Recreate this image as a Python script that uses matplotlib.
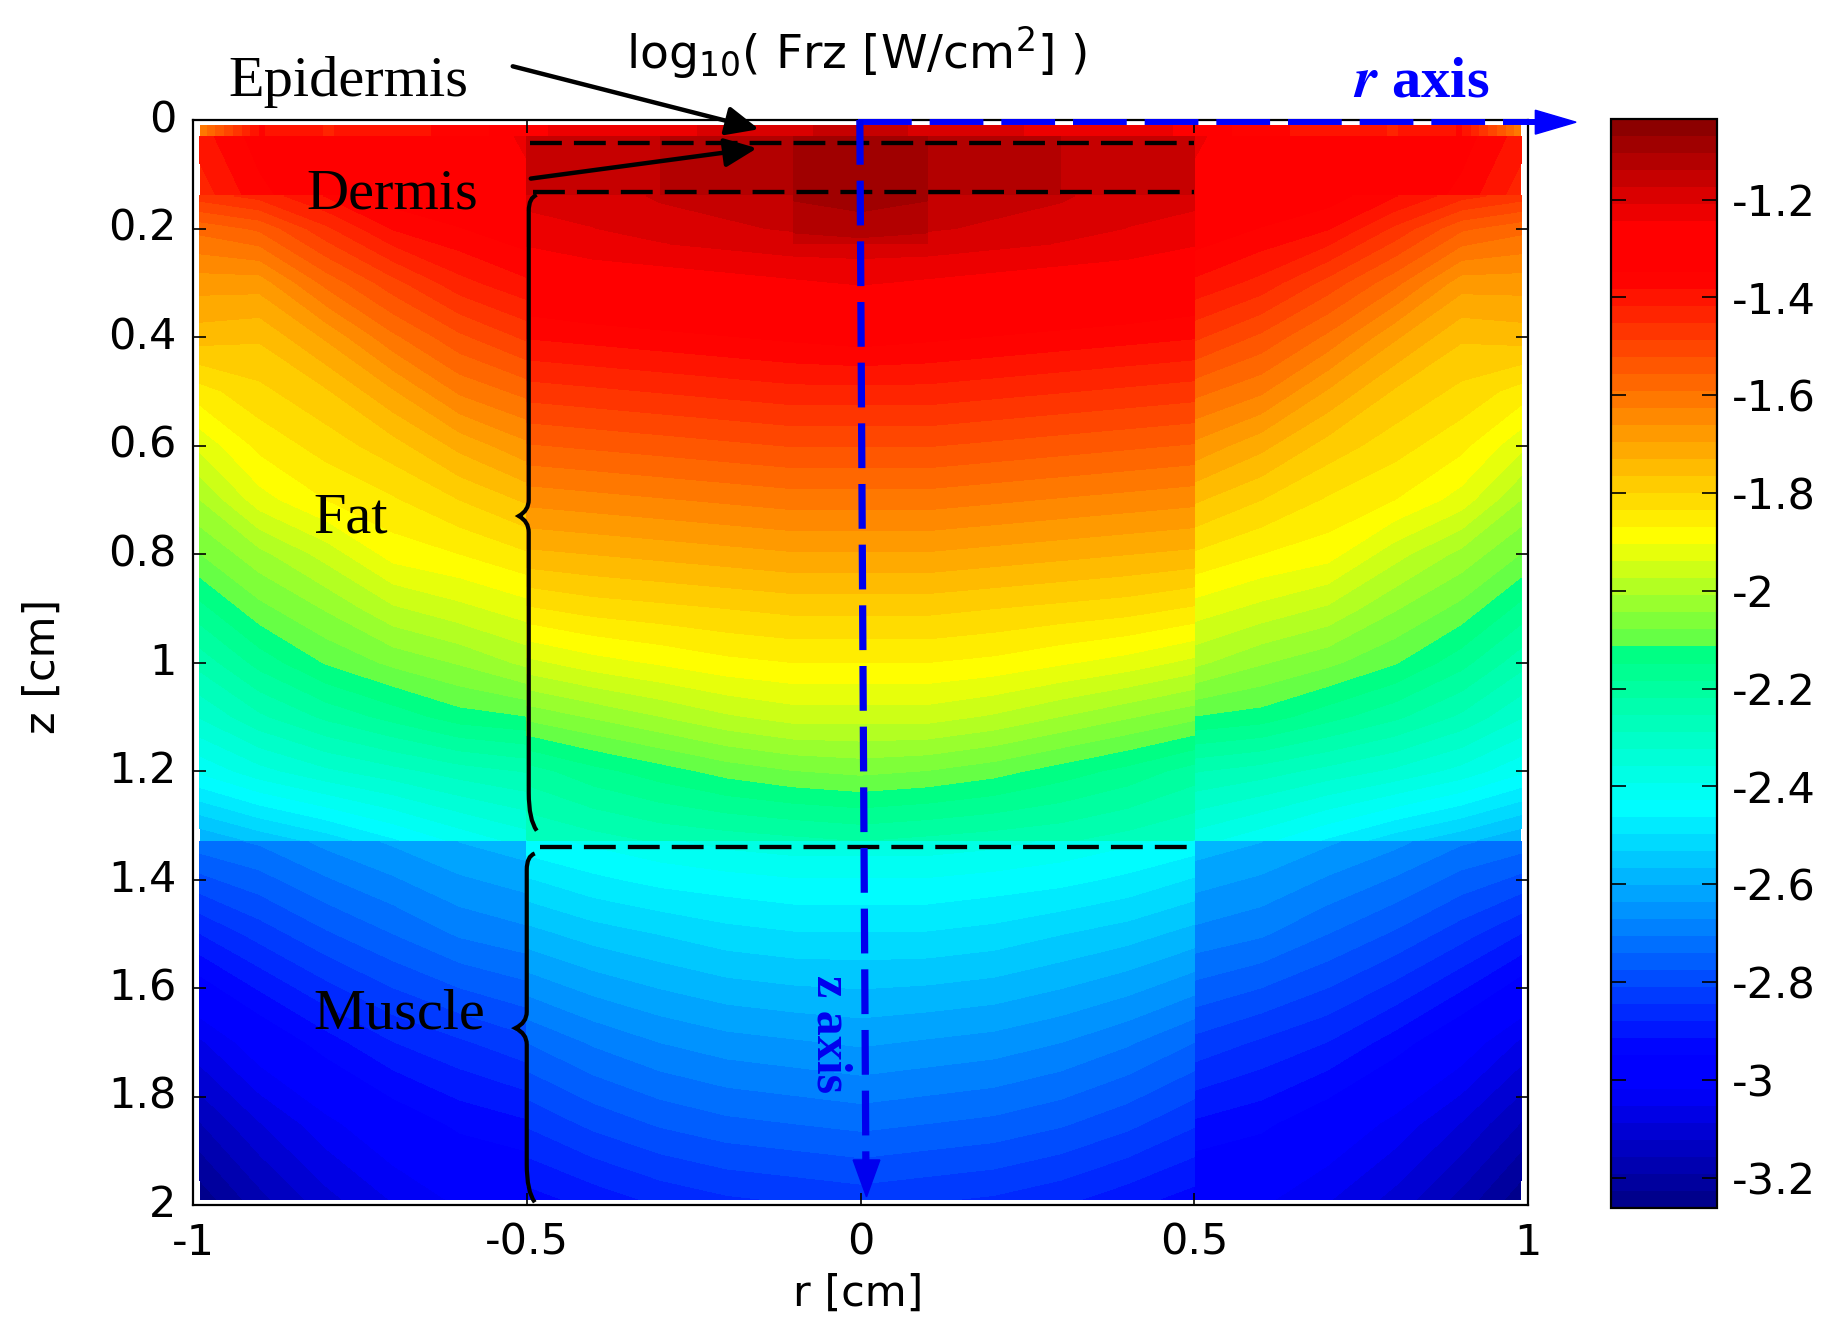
import numpy as np
import matplotlib
matplotlib.use("Agg")
import matplotlib.pyplot as plt
from matplotlib.cm import ScalarMappable
from matplotlib.colors import LinearSegmentedColormap, Normalize
from matplotlib.path import Path
from matplotlib.patches import PathPatch, Polygon
from matplotlib.transforms import ScaledTranslation

plt.rcParams['axes.unicode_minus'] = False
plt.rcParams['mathtext.default'] = 'regular'

VMIN = -3.262
VMAX = -1.035

# radial positions (right half, the map is drawn mirrored on the left)
r_outer = [0.99, 0.9, 0.8, 0.7, 0.6, 0.5]
r_inner = [0.5, 0.4, 0.3, 0.2, 0.1, 0.0]
r_inner_fat = [0.5, 0.4, 0.3, 0.2, 0.1001, 0.0999, 0.0]
r_inner_dermis = [0.5, 0.3001, 0.2999, 0.1001, 0.0999, 0.0]

z_epidermis = [0.01, 0.03]
z_dermis = [0.03, 0.14]
z_fat = [0.14, 0.2, 0.3, 0.4, 0.5, 0.6, 0.7, 0.8, 0.9, 1.0, 1.1, 1.2, 1.33]
z_fat_inner = [0.14, 0.2, 0.226, 0.228, 0.3, 0.4, 0.5, 0.6, 0.7, 0.8, 0.9, 1.0, 1.1, 1.2, 1.33]
z_muscle = [1.33, 1.5, 1.7, 1.85, 1.99]
z_muscle_inner = [1.33, 1.4, 1.5, 1.7, 1.85, 1.99]

# log10(Frz)
epidermis_outer = [[-1.62, -1.38, -1.42, -1.40, -1.37, -1.32],
                   [-1.62, -1.38, -1.42, -1.40, -1.37, -1.32]]
epidermis_inner = [[-1.25, -1.23, -1.22, -1.20, -1.18, -1.16],
                   [-1.25, -1.23, -1.22, -1.20, -1.18, -1.16]]
dermis_outer = [[-1.40, -1.33, -1.29, -1.27, -1.26, -1.24],
                [-1.44, -1.36, -1.31, -1.29, -1.27, -1.25]]
dermis_inner = [[-1.17, -1.17, -1.12, -1.12, -1.08, -1.08],
                [-1.15, -1.15, -1.11, -1.11, -1.07, -1.07]]
fat_outer = [[-1.47, -1.44, -1.38, -1.33, -1.31, -1.28],
             [-1.58, -1.55, -1.46, -1.38, -1.35, -1.32],
             [-1.68, -1.68, -1.58, -1.50, -1.43, -1.39],
             [-1.75, -1.76, -1.69, -1.60, -1.53, -1.48],
             [-1.85, -1.81, -1.77, -1.70, -1.62, -1.58],
             [-1.93, -1.86, -1.82, -1.78, -1.72, -1.67],
             [-2.01, -1.92, -1.87, -1.84, -1.80, -1.76],
             [-2.08, -2.02, -1.96, -1.89, -1.87, -1.84],
             [-2.16, -2.09, -2.04, -1.98, -1.95, -1.92],
             [-2.24, -2.17, -2.11, -2.07, -2.04, -2.00],
             [-2.32, -2.26, -2.21, -2.17, -2.13, -2.115],
             [-2.42, -2.37, -2.33, -2.30, -2.27, -2.25],
             [-2.60, -2.56, -2.52, -2.47, -2.42, -2.38]]
fat_inner = [[-1.20, -1.19, -1.17, -1.16, -1.14, -1.10, -1.09],
             [-1.22, -1.21, -1.19, -1.18, -1.17, -1.13, -1.12],
             [-1.24, -1.22, -1.21, -1.20, -1.19, -1.16, -1.15],
             [-1.24, -1.22, -1.21, -1.20, -1.19, -1.19, -1.19],
             [-1.30, -1.28, -1.27, -1.26, -1.25, -1.25, -1.24],
             [-1.38, -1.37, -1.36, -1.35, -1.34, -1.34, -1.33],
             [-1.47, -1.46, -1.45, -1.44, -1.43, -1.43, -1.43],
             [-1.56, -1.55, -1.54, -1.53, -1.52, -1.52, -1.52],
             [-1.65, -1.64, -1.63, -1.62, -1.61, -1.61, -1.61],
             [-1.74, -1.73, -1.72, -1.71, -1.70, -1.70, -1.70],
             [-1.84, -1.82, -1.81, -1.80, -1.79, -1.79, -1.79],
             [-1.95, -1.92, -1.90, -1.88, -1.87, -1.87, -1.87],
             [-2.07, -2.04, -2.01, -1.98, -1.96, -1.96, -1.96],
             [-2.20, -2.16, -2.13, -2.10, -2.08, -2.08, -2.07],
             [-2.29, -2.27, -2.25, -2.24, -2.23, -2.23, -2.22]]
muscle_outer = [[-2.72, -2.70, -2.66, -2.63, -2.60, -2.58],
                [-2.88, -2.83, -2.78, -2.74, -2.70, -2.68],
                [-3.06, -2.99, -2.93, -2.88, -2.85, -2.82],
                [-3.16, -3.09, -3.03, -2.98, -2.94, -2.92],
                [-3.25, -3.17, -3.10, -3.05, -3.01, -3.00]]
muscle_inner = [[-2.44, -2.42, -2.40, -2.38, -2.37, -2.37],
                [-2.50, -2.47, -2.45, -2.44, -2.43, -2.43],
                [-2.58, -2.55, -2.53, -2.51, -2.50, -2.50],
                [-2.74, -2.70, -2.67, -2.65, -2.64, -2.63],
                [-2.84, -2.80, -2.77, -2.75, -2.74, -2.73],
                [-2.93, -2.90, -2.87, -2.85, -2.84, -2.83]]

blocks = [(r_outer, z_epidermis, epidermis_outer),
          (r_inner, z_epidermis, epidermis_inner),
          (r_outer, z_dermis, dermis_outer),
          (r_inner_dermis, z_dermis, dermis_inner),
          (r_outer, z_fat, fat_outer),
          (r_inner_fat, z_fat_inner, fat_inner),
          (r_outer, z_muscle, muscle_outer),
          (r_inner, z_muscle_inner, muscle_inner)]

x_ticks = [-1, -0.5, 0, 0.5, 1]
x_tick_labels = ['-1', '-0.5', '0', '0.5', '1']
z_ticks = [0, 0.2, 0.4, 0.6, 0.8, 1, 1.2, 1.4, 1.6, 1.8, 2]
z_tick_labels = ['0', '0.2', '0.4', '0.6', '0.8', '1', '1.2', '1.4', '1.6', '1.8', '2']
cb_ticks = [-1.2, -1.4, -1.6, -1.8, -2, -2.2, -2.4, -2.6, -2.8, -3, -3.2]
cb_tick_labels = ['-1.2', '-1.4', '-1.6', '-1.8', '-2', '-2.2', '-2.4', '-2.6', '-2.8', '-3', '-3.2']

# jet with flat red and blue stretches and a jump into green under the middle
cmap = LinearSegmentedColormap.from_list('jet_step', [
    (0.0, (0, 0, 0.55)),
    (0.103, (0, 0, 1)),
    (0.138, (0, 0, 1)),
    (0.367, (0, 1, 1)),
    (0.513, (0, 1, 0.5)),
    (0.5131, (0.33, 1, 0.3)),
    (0.618, (1, 1, 0)),
    (0.86, (1, 0, 0)),
    (0.906, (1, 0, 0)),
    (1.0, (0.55, 0, 0))], N=64)
levels = np.linspace(VMIN, VMAX, 65)

W, H = 1838, 1335
fig = plt.figure(figsize=(W / 100, H / 100), dpi=100)


def px_axes(left, top, right, bottom):
    return fig.add_axes([left / W, 1 - bottom / H, (right - left) / W, (bottom - top) / H])


ax = px_axes(193, 120, 1528, 1205)
ax.set_xlim(-1, 1)
ax.set_ylim(2, 0)

for rs, zs, table in blocks:
    for side in (-1, 1):
        R, Z = np.meshgrid(side * np.array(rs), zs)
        ax.contourf(R, Z, np.array(table), levels=levels, cmap=cmap,
                    vmin=VMIN, vmax=VMAX, antialiased=False)

ax.set_xticks(x_ticks)
ax.set_xticklabels(x_tick_labels)
ax.set_yticks(z_ticks)
ax.set_yticklabels(z_tick_labels)
ax.tick_params(direction='in', length=9, width=1.2, top=True, right=True, labelsize=31)
ax.tick_params(axis='x', pad=12)
ax.tick_params(axis='y', pad=12)
for s in ax.spines.values():
    s.set_linewidth(1.6)
    s.set_zorder(1)
# labels of the z axis sit a little above their ticks
lift = ScaledTranslation(0, 3 / 72, fig.dpi_scale_trans)
for lab in ax.get_yticklabels():
    lab.set_transform(lab.get_transform() + lift)

# layer borders
for z0, r0 in [(0.043, -0.495), (0.133, -0.49), (1.34, -0.48)]:
    ax.plot([r0, 0.5], [z0, z0], color='black', lw=3.1, linestyle=(0, (7.4, 2.8)), zorder=4)

# r and z axis markers
ax.plot([-0.003, 1.01], [0.004, 0.004], color='#0000ff', lw=4.3, linestyle=(0, (9, 3)),
        clip_on=False, zorder=5)
ax.plot([-0.001, 0.008], [0.0, 1.92], color='#0000ee', lw=5.2, linestyle=(0, (6.2, 2.2)),
        clip_on=False, zorder=5)
ax.add_patch(Polygon([(1.011, -0.018), (1.072, 0.004), (1.011, 0.026)], closed=True,
                     color='#0000ff', clip_on=False, zorder=5))
ax.add_patch(Polygon([(-0.011, 1.917), (0.009, 1.985), (0.029, 1.917)], closed=True,
                     color='#0000ee', clip_on=False, zorder=5))


def brace(r, r_tip, z0, zm, z1):
    verts = [(r + 0.012, z0), (r, z0 + 0.005), (r, z0 + 0.03), (r, z0 + 0.07),
             (r, zm - 0.03), (r, zm - 0.01), (r_tip, zm),
             (r, zm + 0.01), (r, zm + 0.03), (r, zm + 0.07),
             (r, z1 - 0.07), (r, z1 - 0.02), (r + 0.012, z1)]
    codes = [Path.MOVETO, Path.CURVE3, Path.CURVE3, Path.LINETO,
             Path.LINETO, Path.CURVE3, Path.CURVE3,
             Path.CURVE3, Path.CURVE3, Path.LINETO,
             Path.LINETO, Path.CURVE3, Path.CURVE3]
    ax.add_patch(PathPatch(Path(verts, codes), fill=False, edgecolor='black', lw=3, zorder=4))


brace(-0.497, -0.512, 0.138, 0.73, 1.31)
brace(-0.5, -0.517, 1.352, 1.674, 1.995)

# arrows to the thin layers
for start, tip in [((-0.521, -0.099), (-0.152, 0.017)), ((-0.494, 0.108), (-0.155, 0.052))]:
    ax.annotate('', xy=tip, xytext=start, annotation_clip=False, zorder=6,
                arrowprops=dict(arrowstyle='-|>,head_length=0.9,head_width=0.4', color='black',
                                lw=3.2, mutation_scale=22, shrinkA=0, shrinkB=0))

serif = 'Liberation Serif'
ax.text(-0.947, -0.045, 'Epidermis', family=serif, fontsize=42, va='baseline', clip_on=False)
ax.text(-0.83, 0.164, 'Dermis', family=serif, fontsize=42, va='baseline')
ax.text(-0.82, 0.76, 'Fat', family=serif, fontsize=42, va='baseline')
ax.text(-0.82, 1.674, 'Muscle', family=serif, fontsize=42, va='baseline')
ax.text(0.738, -0.043, r'$\mathbfit{r}$ axis', family=serif, fontsize=42, weight='bold',
        color='#0000ff', va='baseline', math_fontfamily='stix')
ax.text(-0.047, 1.685, 'z axis', family=serif, fontsize=36, weight='bold', color='#0000ee',
        rotation=270, ha='center', va='center')

ax.text(-0.006, -0.095, r'log$_{10}$( Frz [W/cm$^{2}$] )', fontsize=34, ha='center', va='baseline')
fig.text(858 / W, 1 - 1294 / H, 'r [cm]', fontsize=31, ha='center', va='center')
fig.text(43 / W, 1 - 666 / H, 'z [cm]', fontsize=31, rotation=90, ha='center', va='center')

# colour bar
cax = px_axes(1611, 119, 1717, 1208)
cb = fig.colorbar(ScalarMappable(norm=Normalize(VMIN, VMAX), cmap=cmap), cax=cax)
cb.set_ticks(cb_ticks)
cb.set_ticklabels(cb_tick_labels)
cb.minorticks_off()
cb.ax.tick_params(direction='in', length=11, width=1.2, left=True, right=True, labelsize=31, pad=11)
cb.outline.set_linewidth(1.6)

fig.savefig('out.png', dpi=100)
